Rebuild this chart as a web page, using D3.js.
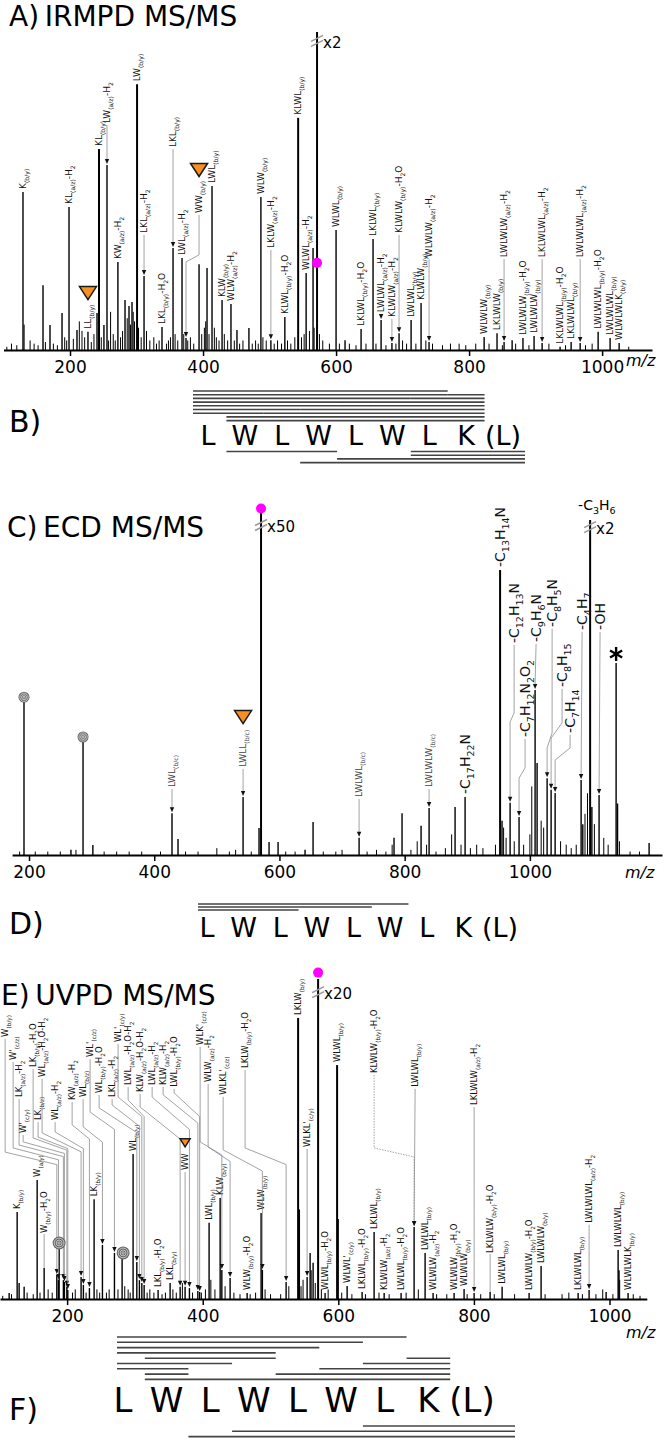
<!DOCTYPE html>
<html>
<head>
<meta charset="utf-8">
<script src="https://cdn.jsdelivr.net/npm/d3@7"></script>
<style>
  body { margin: 0; background: #fff; }
  svg { display: block; }
</style>
</head>
<body>
<svg id="fig" width="664" height="1439"></svg>
<script>
"use strict";

// ---------- data: A) IRMPD ----------
// [m/z, relative intensity (precursor = 100)]
var peaksA = [
  [129.3, 49.7], [159.4, 20.4], [169.9, 7.9], [188, 11.6], [198.5, 45], [210.5, 6.3],
  [227, 5.7], [240.6, 11.6], [243.6, 63.2], [251, 7.9], [255.6, 58.2], [272, 27.7],
  [282.7, 15.7], [288.7, 13.8], [293.2, 15.1], [300.8, 83.6], [311.3, 23.3], [338.3, 7.2],
  [354.9, 32.1], [368.4, 28.9], [374.4, 3.8], [394, 27], [406, 25.8], [413.5, 51.6],
  [428.6, 15.7], [442, 14.5], [451, 6.3], [469, 6.9], [487, 48.1], [502, 3.1],
  [523, 10.4], [543, 73], [555, 24.2], [565.4, 32.1], [571.4, 100], [600, 37.7],
  [613.5, 3.1], [637.6, 6.6], [655.6, 34.9], [667.7, 9.4], [684, 2.2], [694.7, 5.3],
  [712.8, 9.4], [727.8, 14.8], [739.8, 2.5], [822.6, 4.1], [842, 5.3], [852.6, 2.5],
  [864.7, 3.1], [881, 3.8], [897.7, 4.4], [909.8, 2.2], [936.8, 1], [953.4, 2.5],
  [967, 2.2], [994, 5.7], [1012, 3.8], [1025.6, 2.2]
];
var noiseA = [
  [105, 1], [112, 2], [120, 1.5], [131, 8], [140, 3], [146, 2], [152, 1.5], [163, 2.5],
  [175, 2], [181, 1.5], [192, 4], [195, 3], [205, 3.5], [214, 9], [218, 6], [222, 4],
  [232, 2.5], [236, 5], [247, 4], [258, 3], [261, 12], [265, 5], [268, 3], [276, 4],
  [279, 6], [286, 10], [291, 8], [295, 12], [297, 9], [303, 7], [307, 4], [315, 6],
  [320, 3], [326, 4], [330, 2], [334, 3], [345, 2], [348, 3], [351, 4], [358, 5],
  [362, 3], [371, 5], [377, 3], [381, 4], [386, 2], [398, 5], [402, 7], [404, 9],
  [409, 5], [417, 7], [420, 4], [424, 3], [432, 5], [437, 3], [447, 3], [455, 2],
  [460, 3], [474, 2], [479, 3], [483, 2], [490, 4], [495, 3], [507, 2], [512, 3],
  [518, 2], [527, 3], [532, 2], [538, 4], [548, 4], [552, 5], [560, 6], [567, 7],
  [575, 5], [580, 3], [590, 2], [605, 2], [620, 2], [630, 1.5], [645, 2], [660, 2],
  [675, 1.5], [690, 2], [700, 3], [706, 2], [720, 2], [735, 3], [745, 2], [760, 1.5],
  [772, 2], [785, 2], [795, 1.5], [810, 2], [830, 2], [850, 1.5], [870, 2], [890, 1.5],
  [920, 2], [945, 1.5], [975, 1.5], [985, 2], [1040, 1]
];
// labels sitting on their peak: [text, m/z, intensity, label foot (optional)]
var directA = [
  ["K_{(b/y)}", 129.3, 49.7], ["KL_{(a/z)}-H_{2}", 198.5, 45], ["LL_{(b/y)}", 227, 5.7],
  ["KL_{(b/y)}", 243.6, 63.2], ["KW_{(a/z)}-H_{2}", 272, 27.7], ["LW_{(b/y)}", 300.8, 83.6],
  ["LKL_{(b/y)}-H_{2}O", 338.3, 7.2], ["LWL_{(a/z)}-H_{2}", 368.4, 28.9],
  ["LWL_{(b/y)}", 413.5, 51.6], ["KLW_{(b/y)}", 428.6, 15.7], ["WLW_{(a/z)}-H_{2}", 442, 14.5],
  ["WLW_{(b/y)}", 487, 48.1], ["KLWL_{(b/y)}-H_{2}O", 523, 10.4], ["KLWL_{(b/y)}", 543, 73],
  ["WLWL_{(a/z)}-H_{2}", 555, 24.2], ["WLWL_{(b/y)}", 600, 37.7],
  ["LKLWL_{(b/y)}-H_{2}O", 637.6, 6.6], ["LKLWL_{(b/y)}", 655.6, 34.9],
  ["LWLWL_{(b/y)}", 712.8, 9.4], ["KLWLW_{(b/y)}", 727.8, 14.8], ["WLWLW_{(b/y)}", 822.6, 4.1],
  ["LKLWLW_{(b/y)}", 842, 5.3], ["LWLWLW_{(b/y)}-H_{2}O", 881, 3.8], ["LWLWLW_{(b/y)}", 897.7, 4.4],
  ["LKLWLWL_{(b/y)}-H_{2}O", 936.8, 1], ["LKLWLWL_{(b/y)}", 953.4, 2.5],
  ["LWLWLWL_{(b/y)}-H_{2}O", 994, 5.7], ["LWLWLWL_{(b/y)}", 1012, 3.8], ["WLWLWLK_{(b/y)}", 1025.6, 2.2]
];
// labels with leader: [text, label m/z, label foot, target m/z, target intensity, elbow1, elbow2, dotted]
var leadersA = [
  ["LW_{(a/z)}-H_{2}", 255.6, 71.4, 255.6, 58.2], ["LKL_{(a/z)}-H_{2}", 311.3, 36.8, 311.3, 23.3],
  ["LKL_{(b/y)}", 354.9, 63.8, 354.9, 32.1], ["WW_{(b/y)}", 394, 43.1, 374.4, 3.8, 29.9, 27.7],
  ["LKLW_{(a/z)}-H_{2}", 502, 32.1, 502, 3.1], ["LWLWL_{(a/z)}-H_{2}", 667.7, 11.9, 667.7, 9.4],
  ["KLWLW_{(a/z)}-H_{2}", 684, 10.4, 684, 2.2], ["KLWLW_{(b/y)}-H_{2}O", 694.7, 36.8, 694.7, 5.3],
  ["WLWLW_{(a/z)}-H_{2}", 739.8, 29.2, 739.8, 2.5], ["LWLWLW_{(a/z)}-H_{2}", 852.6, 29.2, 852.6, 2.5],
  ["LKLWLWL_{(a/z)}-H_{2}", 909.8, 29.2, 909.8, 2.2], ["LWLWLWL_{(a/z)}-H_{2}", 967, 29.2, 967, 2.2]
];
var triA = [[227, 17.9], [394, 56.6]];
var precA = [571.4, 27.4];

// ---------- data: C) ECD ----------
var peaksC = [
  [192, 44.6], [286.3, 33.5], [267, 1.5], [302, 2.9], [428.4, 12.2], [438, 4.7], [541.9, 16.9],
  [567.4, 7.9], [570.6, 100], [583.4, 3.8], [597.8, 3.8], [640.9, 1.5], [653.7, 9.6], [727.2, 5],
  [783, 5], [795.8, 12.2], [826.2, 8.5], [839, 13.7], [880.5, 14], [896.5, 16.9], [952.4, 83.1],
  [955.5, 10], [968.4, 15.2], [982.7, 11.1], [1008.3, 48.1], [1011.5, 26.8], [1027.5, 22.4],
  [1033.9, 19], [1040.3, 18.1], [1081.8, 21.9], [1084.5, 9], [1096.2, 97.7], [1099, 14],
  [1110.5, 17.5], [1137.7, 56], [1140, 15], [1190.4, 3.5]
];
var noiseC = [
  [185, 1], [210, 1], [230, 1], [250, 1], [275, 1.5], [320, 1], [340, 1], [360, 1], [380, 1],
  [410, 1], [450, 1], [470, 1], [500, 2], [520, 1], [530, 1.5], [555, 1], [610, 1], [625, 1],
  [670, 1], [690, 1], [700, 1.5], [740, 1], [755, 1.5], [770, 1], [780, 3], [810, 1.5], [820, 4],
  [835, 3], [850, 1], [865, 2], [875, 6], [890, 3], [905, 2], [915, 3], [925, 2], [945, 3],
  [958, 8], [962, 5], [975, 4], [990, 3], [1000, 6], [1003, 20], [1018, 10], [1022, 8],
  [1049, 4], [1058, 3], [1066, 2], [1074, 3], [1088, 12], [1092, 18], [1103, 9], [1118, 5],
  [1125, 3], [1143, 4], [1160, 1], [1175, 1]
];
var directC = [["-C_{17}H_{22}N", 896.5, 16.9], ["-C_{13}H_{14}N", 952.4, 83.1]];
var leadersC = [
  ["LWL_{(b/c)}", 428.4, 19.8, 428.4, 12.2], ["LWLL_{(b/c)}", 541.9, 25.7, 541.9, 16.9],
  ["LWLWL_{(b/c)}", 727.2, 16.9, 727.2, 5], ["LWLWLW_{(b/c)}", 839, 19.8, 839, 13.7]
];
var formulaC = [
  ["-C_{12}H_{13}N", 974.8, 61.8, 968.4, 15.2, 41.4, 38.8],
  ["-C_{7}H_{12}N_{2}O_{2}", 992.3, 34.4, 982.7, 11.1, 25.4, 22.4],
  ["-C_{9}H_{6}N", 1009.9, 62.1, 1008.3, 48.1],
  ["-C_{8}H_{5}N", 1035.5, 66.5, 1027.5, 22.4, 35.6, 31.2],
  ["-C_{8}H_{15}", 1051.4, 49, 1033.9, 19, 38.5, 34.1],
  ["-C_{7}H_{14}", 1064.2, 35.6, 1040.3, 18.1, 31.2, 27.7],
  ["-C_{4}H_{7}", 1083.4, 65.6, 1081.8, 21.9],
  ["-OH", 1112.1, 65.6, 1110.5, 17.5]
];
var triC = [[541.9, 40.2]];
var spiralC = [[192, 46], [286.3, 34.4]];
var precC = [570.6, 101];
var starC = [1137.7, 58.6];

// ---------- data: E) UVPD ----------
var peaksE = [
  [114.5, 1.9], [126.3, 27.2], [129.2, 5], [136.6, 3.8], [155.8, 37.2], [166.1, 9.7],
  [184.8, 7.5], [187.2, 5.9], [188.2, 15.9], [194.5, 5.9], [196, 5.3], [199.6, 3.8], [201, 2.8],
  [220.6, 6.9], [224, 4.4], [232.9, 3.4], [239.8, 31.2], [252.1, 16.9], [269.8, 14.4],
  [281.1, 12.8], [297.3, 45.3], [302.8, 11.6], [306.6, 5.9], [310.2, 5], [313.6, 4.4],
  [334.2, 2.8], [351.9, 5], [366.7, 3.8], [374, 3.8], [380.4, 3.4], [392.8, 2.5], [395.5, 2.2],
  [409.4, 23.8], [425.7, 31.6], [428.2, 9.1], [440.4, 6.6], [465.5, 1.9], [486.1, 26.9],
  [488, 9.1], [523, 5.3], [540.7, 87.8], [542.5, 28], [554, 6.9], [558.4, 14.4], [562.8, 11.3],
  [570.2, 100], [580.5, 1.9], [598.2, 73.1], [599.8, 25], [613, 4.1], [635.1, 2.2], [652.8, 20.9],
  [667.6, 1.9], [692.6, 1.9], [711.8, 22.5], [728, 14.4], [739.8, 1.9], [770.8, 1.9],
  [785.5, 3.1], [800.3, 1.9], [823.9, 2.2], [841.6, 3.8], [881.4, 1.9], [899.1, 10.3],
  [953.7, 1.9], [969.9, 2.8], [995, 2.2], [1012.7, 15.3], [1014, 9], [1027.4, 1.9]
];
var noiseE = [
  [105, 1], [118, 1.5], [141, 2], [150, 1.5], [160, 2], [172, 3], [178, 2], [208, 2], [212, 3],
  [228, 2], [244, 3], [248, 2], [258, 2], [262, 3], [275, 3], [285, 4], [290, 3], [293, 2],
  [318, 2], [322, 3], [328, 2], [340, 1.5], [345, 2], [356, 3], [361, 2], [370, 5], [385, 2],
  [398, 2], [404, 3], [412, 6], [418, 3], [433, 4], [446, 2], [455, 1.5], [470, 1.5], [478, 2],
  [492, 3], [500, 1.5], [515, 1.5], [527, 4], [545, 4], [548, 6], [560, 9], [566, 5], [575, 3],
  [585, 3], [605, 2], [620, 1.5], [640, 1.5], [660, 2], [675, 1.5], [700, 2], [718, 3],
  [745, 1.5], [760, 1.5], [790, 1.5], [810, 1.5], [830, 1.5], [860, 1.5], [905, 1.5], [930, 1.5],
  [940, 2], [960, 1.5], [980, 1.5], [990, 3], [1005, 1.5], [1015, 6], [1035, 1.5], [1045, 1]
];
var directE = [
  ["K_{(b/y)}", 126.3, 27.2], ["W_{(a/y)}", 155.8, 37.2], ["W_{(b/y)}-H_{2}O", 166.1, 9.7, 20.6],
  ["LK_{(b/y)}", 239.8, 31.2], ["WL_{(b/y)}", 297.3, 45.3], ["LKL_{(b/y)}-H_{2}O", 334.2, 2.8],
  ["LKL_{(b/y)}", 351.9, 5], ["LWL_{(b/y)}", 409.4, 23.8], ["KLW_{(b/y)}", 425.7, 31.6],
  ["WLW_{(b/y)}-H_{2}O", 465.5, 1.9], ["WLW_{(b/y)}", 486.1, 26.9], ["LKLW_{(b/y)}", 540.7, 87.8],
  ["WLWL_{(b/y)}-H_{2}O", 580.5, 1.9], ["WLWL_{(b/y)}", 598.2, 73.1], ["WLWL'_{(c/y)}", 613, 4.1],
  ["LKLWL_{(b/y)}-H_{2}O", 635.1, 2.2], ["LKLWL_{(b/y)}", 652.8, 20.9],
  ["KLWLW_{(a/z)}-H_{2}", 667.6, 1.9], ["LWLWL_{(b/y)}-H_{2}O", 692.6, 1.9],
  ["LWLWL_{(b/y)}", 728, 14.4], ["WLWLW_{(a/z)}-H_{2}", 739.8, 1.9],
  ["WLWLW_{(b/y)}-H_{2}O", 770.8, 1.9], ["WLWLW_{(b/y)}", 785.5, 3.1],
  ["LKLWLW_{(b/y)}-H_{2}O", 823.9, 2.2, 14.4], ["LWLWL_{(b/y)}", 841.6, 3.8],
  ["LWLWLW_{(b/y)}-H_{2}O", 881.4, 1.9], ["LWLWLW_{(b/y)}", 899.1, 10.3],
  ["LKLWLWL_{(b/y)}", 953.7, 1.9], ["LWLWLWL_{(b/y)}", 1012.7, 15.3], ["WLWLWLK_{(b/y)}", 1027.4, 1.9]
];
var leadersE = [
  ["W_{(b/y)}", 108.6, 81.9, 184.8, 7.5, 45.9, 42],
  ["W'_{(c/z)}", 120.4, 74.7, 187.2, 5.9, 47.2, 43.5],
  ["LK_{(a/z)}-H_{2}", 129.2, 63.1, 194.5, 5.9, 48.1, 44.5],
  ["W'_{(c/y)}", 135.1, 51.9, 196, 5.3, 49.1, 45.5],
  ["LK_{(b/y)}-H_{2}O", 149.9, 72.5, 199.6, 3.8, 50.3, 46.5],
  ["LK_{(b/z)}", 157.2, 55.9, 201, 2.8, 50.6, 47],
  ["WL_{(a/z)}-H_{2}O-H_{2}", 163.1, 69.4, 220.6, 6.9, 51.9, 46],
  ["WL_{(a/z)}-H_{2}", 182.3, 55.9, 224, 4.4, 52.2, 47],
  ["KW_{(a/z)}-H_{2}", 207.4, 62.2, 232.9, 3.4, 54.4, 50],
  ["WL_{(b/z)}", 223.6, 63.1, 252.1, 16.9, 53.8, 49],
  ["WL'_{(c/z)}", 233.9, 75.6, 269.8, 14.4, 58.4, 53],
  ["WL_{(b/y)}-H_{2}O", 247.2, 64.4, 302.8, 11.6, 59.7, 52],
  ["LKL_{(a/z)}-H_{2}", 266.4, 63.1, 306.6, 5.9, 60.6, 54],
  ["WL'_{(c/y)}", 275.2, 80.3, 310.2, 5, 63.1, 57],
  ["LWL_{(a/z)}-H_{2}O-H_{2}", 290, 66.9, 313.6, 4.4, 62.2, 57],
  ["KLW_{(a/z)}-H_{2}O-H_{2}", 307.7, 64.7, 366.7, 3.8, 60, 50],
  ["LWL_{(a/z)}-H_{2}", 325.4, 66.9, 380.4, 3.4, 63.1, 53],
  ["KLW_{(a/z)}-H_{2}", 341.6, 66.9, 392.8, 2.5, 63.8, 55],
  ["LWL_{(b/y)}-H_{2}O", 357.8, 66.3, 395.5, 2.2, 64.4, 57],
  ["WLK'_{(c/z)}", 396.2, 79.4, 428.2, 9.1, 49.1, 45],
  ["WLW_{(a/z)}-H_{2}", 408, 67.8, 440.4, 6.6, 47.5, 43],
  ["WLKL'_{(c/z)}", 430.1, 63.8, 488, 9.1, 46.6, 40],
  ["LKLW_{(b/y)}-H_{2}O", 462.5, 72.2, 523, 5.3, 47.2, 42],
  ["WW", 374, 40.3, 374, 3.8],
  ["WLKL'_{(c/y)}", 554, 47.5, 554, 6.9],
  ["KLWLW_{(b/y)}-H_{2}O", 652.8, 70.6, 711.8, 22.5, 47.2, 44.4, true],
  ["LWLWL_{(b/y)}", 713.3, 66.3, 711.8, 22.5],
  ["LKLWLW_{(a/z)}-H_{2}", 800.3, 60.6, 800.3, 1.9],
  ["LWLWLWL_{(a/z)}-H_{2}", 969.9, 23.8, 969.9, 2.8]
];
var triE = [[374, 48.8]];
var spiralE = [[188.2, 17.5], [282.6, 14.4]];
var precE = [570.2, 102];

var ticks = [200, 400, 600, 800, 1000];

// ---------- data: sequence coverage ----------
var residues = ["L", "W", "L", "W", "L", "W", "L", "K", "(L)"];
// each row: list of [from boundary, to boundary]
var aboveB = [
  [[0, 7]], [[0, 7], [7, 8]], [[0, 6], [6, 8]], [[0, 5], [5, 8]], [[0, 4], [4, 8]],
  [[0, 3], [3, 8]], [[0, 2], [2, 8]], [[1, 8]], [[1, 8]]
];
var belowB = [[[1, 4], [6, 9]], [[6, 9]], [[4, 9]], [[3, 9]]];
var aboveD = [[[0, 6]], [[0, 5]], [[0, 3]]];
var aboveF = [
  [[0, 7]], [[0, 6]], [[0, 5]], [[0, 4]], [[1, 4], [7, 8]], [[0, 3], [6, 8]],
  [[0, 2], [5, 8]], [[1, 2], [4, 8]], [[1, 8]]
];
var belowF = [[[6, 9]], [[3, 9]], [[2, 9]]];

// ---------- drawing ----------
var FONT = "'DejaVu Sans', Verdana, sans-serif";
var svg = d3.select("#fig");
svg.append("rect").attr("width", 664).attr("height", 1439).attr("fill", "#fff");

// text with _{...} subscripts
function rich(t, str, fs) {
  var parts = str.split(/(_\{[^}]*\})/).filter(function (s) { return s.length; });
  var sh = fs * 0.3, down = false;
  parts.forEach(function (p) {
    if (p.indexOf("_{") === 0) {
      t.append("tspan").attr("font-size", fs * 0.68).attr("dy", down ? 0 : sh).text(p.slice(2, -1));
      down = true;
    } else {
      t.append("tspan").attr("dy", down ? -sh : 0).text(p);
      down = false;
    }
  });
}

function vlabel(g, str, px, foot, fs, color) {
  var t = g.append("text")
    .attr("transform", "translate(" + (px + fs * 0.36) + "," + foot + ") rotate(-90)")
    .attr("font-family", FONT)
    .attr("font-size", fs)
    .attr("fill", color);
  rich(t, str, fs);
}

function drawBreak(g, px, py, txt) {
  [-2.5, 2.5].forEach(function (o) {
    g.append("line")
      .attr("x1", px - 6).attr("y1", py + 3 + o)
      .attr("x2", px + 6).attr("y2", py - 3 + o)
      .attr("stroke", "#9a9a9a").attr("stroke-width", 1.6);
  });
  g.append("text").attr("x", px + 6).attr("y", py + 7)
    .attr("font-family", FONT).attr("font-size", 15).text(txt);
}

function drawPanel(p) {
  var x = d3.scaleLinear().domain(p.mz).range(p.xr);
  var y = d3.scaleLinear().domain([0, 100]).range(p.yr);
  var base = p.yr[0];
  var g = svg.append("g");

  g.append("g").selectAll("line").data(p.noise).join("line")
    .attr("x1", function (d) { return x(d[0]); })
    .attr("x2", function (d) { return x(d[0]); })
    .attr("y1", base).attr("y2", function (d) { return y(d[1]); })
    .attr("stroke", "#000").attr("stroke-width", 1);

  g.append("g").selectAll("line").data(p.peaks).join("line")
    .attr("x1", function (d) { return x(d[0]); })
    .attr("x2", function (d) { return x(d[0]); })
    .attr("y1", base).attr("y2", function (d) { return y(d[1]); })
    .attr("stroke", "#000")
    .attr("stroke-width", function (d) { return d[1] > 60 ? 2 : 1.4; });

  // axis
  var ax = d3.axisBottom(x).tickValues(ticks).tickSizeInner(6).tickSizeOuter(0)
    .tickPadding(5).tickFormat(d3.format("d"));
  var a = g.append("g").attr("transform", "translate(0," + base + ")").call(ax);
  a.select(".domain").attr("stroke-width", 2.2);
  a.selectAll(".tick line").attr("stroke-width", 1.5);
  a.selectAll(".tick text").attr("font-size", 17).attr("font-family", FONT).attr("fill", "#000");
  g.append("text").attr("x", p.mzLabel[0]).attr("y", p.mzLabel[1])
    .attr("font-family", FONT).attr("font-size", 16).attr("font-style", "italic").text("m/z");

  // direct labels
  p.direct.forEach(function (d) {
    var px = x(d[1]), top = y(d[2]);
    var foot = d[3] != null ? y(d[3]) : top - 3;
    if (d[3] != null && top - foot > 5) {
      g.append("line").attr("x1", px).attr("x2", px).attr("y1", foot + 1).attr("y2", top)
        .attr("stroke", "#8c8c8c").attr("stroke-width", 0.8);
    }
    vlabel(g, d[0], px, foot, p.fsDirect || p.fs, "#111");
  });

  // leader labels
  function leaders(list, fs, color) {
    list.forEach(function (d) {
      var lx = x(d[1]), foot = y(d[2]), tx = x(d[3]), ty = y(d[4]);
      var pts = [[lx, foot + 2]];
      if (d[5] != null) { pts.push([lx, y(d[5])]); pts.push([tx, y(d[6])]); }
      pts.push([tx, ty - 5]);
      g.append("path").attr("d", d3.line()(pts)).attr("fill", "none")
        .attr("stroke", "#8c8c8c").attr("stroke-width", 0.8)
        .attr("stroke-dasharray", d[7] ? "1.5,1.2" : null);
      g.append("path")
        .attr("d", "M" + (tx - 2.2) + "," + (ty - 6) + "L" + (tx + 2.2) + "," + (ty - 6) + "L" + tx + "," + (ty - 1) + "Z")
        .attr("fill", "#111");
      vlabel(g, d[0], lx, foot, fs, color);
    });
  }
  leaders(p.leaders, p.fs, p.leaderColor || "#111");
  if (p.formula) leaders(p.formula, 14, "#111");

  // orange triangles
  p.tri.forEach(function (d) {
    var cx = x(d[0]), cy = y(d[1]), w = p.triSize[0], h = p.triSize[1];
    g.append("path")
      .attr("d", "M" + (cx - w / 2) + "," + (cy - h / 2) + "L" + (cx + w / 2) + "," + (cy - h / 2) + "L" + cx + "," + (cy + h / 2) + "Z")
      .attr("fill", "#f7901e").attr("stroke", "#1a1a1a").attr("stroke-width", 1.5);
  });

  // spiral markers
  (p.spiral || []).forEach(function (d) {
    var cx = x(d[0]), cy = y(d[1]);
    g.append("circle").attr("cx", cx).attr("cy", cy).attr("r", p.spiralR).attr("fill", "#666");
    [0.75, 0.45, 0.18].forEach(function (f) {
      g.append("circle").attr("cx", cx).attr("cy", cy).attr("r", p.spiralR * f)
        .attr("fill", "none").attr("stroke", "#ddd").attr("stroke-width", 0.8);
    });
  });

  // precursor dot
  g.append("circle").attr("cx", x(p.prec[0])).attr("cy", y(p.prec[1])).attr("r", 5).attr("fill", "#ff00ff");

  // break marks and scale factors
  p.breaks.forEach(function (b) { drawBreak(g, x(b[1]), y(b[2]), b[0]); });

  return { x: x, y: y, g: g };
}

// titles
[["A)\u2009IRMPD MS/MS", 9, 26], ["C)\u2009ECD MS/MS", 7, 537], ["E)\u2009UVPD MS/MS", 1, 1005]]
  .forEach(function (t) {
    svg.append("text").attr("x", t[1]).attr("y", t[2]).attr("font-family", FONT)
      .attr("font-size", 28).text(t[0]);
  });

var pA = drawPanel({
  mz: [100, 1075], xr: [3.5, 652], yr: [350, 32],
  peaks: peaksA, noise: noiseA, direct: directA, leaders: leadersA, fs: 9,
  tri: triA, triSize: [17, 13], prec: precA, mzLabel: [626, 366],
  breaks: [["x2", 571.4, 97.2]]
});

var pC = drawPanel({
  mz: [173, 1211], xr: [12.1, 662], yr: [855, 512],
  peaks: peaksC, noise: noiseC, direct: directC, fsDirect: 14, leaders: leadersC, fs: 9,
  leaderColor: "#444", formula: formulaC,
  tri: triC, triSize: [17, 13], spiral: spiralC, spiralR: 5.5, prec: precC, mzLabel: [625, 878],
  breaks: [["x50", 570.6, 96.2], ["x2", 1096.2, 95.6]]
});
// -C3H6 written across the top of its peak, and the asterisk
(function () {
  var t = pC.g.append("text")
    .attr("x", pC.x(1096.2) - 12).attr("y", pC.y(100.5))
    .attr("font-family", FONT).attr("font-size", 14);
  rich(t, "-C_{3}H_{6}", 14);
  var sx = pC.x(starC[0]), sy = pC.y(starC[1]);
  [90, 30, -30].forEach(function (ang) {
    var r = ang * Math.PI / 180, dx = Math.cos(r) * 7, dy = Math.sin(r) * 7;
    pC.g.append("line").attr("x1", sx - dx).attr("y1", sy - dy).attr("x2", sx + dx).attr("y2", sy + dy)
      .attr("stroke", "#000").attr("stroke-width", 2.4);
  });
})();

var pE = drawPanel({
  mz: [101, 1055], xr: [0, 646.8], yr: [1299, 979],
  peaks: peaksE, noise: noiseE, direct: directE, leaders: leadersE, fs: 8.5,
  tri: triE, triSize: [10, 8], spiral: spiralE, spiralR: 6.5, prec: precE, mzLabel: [626, 1338],
  breaks: [["x20", 570.2, 95.9]]
});

// sequences
function drawSeq(s) {
  var c = d3.scaleLinear().domain([0, 8]).range(s.span);
  var bx = function (k) { return k === 0 ? c(0) - s.lead : (k === 9 ? c(8) + s.tail : c(k - 0.5)); };
  var g = svg.append("g");
  g.append("text").attr("x", 9).attr("y", s.tagY).attr("font-family", FONT)
    .attr("font-size", 30).text(s.tag);
  g.selectAll("text.res").data(residues).join("text").attr("class", "res")
    .attr("x", function (d, i) { return c(i); }).attr("y", s.base)
    .attr("text-anchor", "middle").attr("font-family", FONT).attr("font-size", s.fs)
    .text(function (d) { return d; });
  function rows(list, y0, gap) {
    list.forEach(function (row, r) {
      row.forEach(function (seg) {
        g.append("line").attr("x1", bx(seg[0])).attr("x2", bx(seg[1]))
          .attr("y1", y0 + r * gap).attr("y2", y0 + r * gap)
          .attr("stroke", "#444").attr("stroke-width", 1.6);
      });
    });
  }
  rows(s.above, s.aboveY, s.gap);
  if (s.below) rows(s.below, s.belowY, s.gap);
}

drawSeq({ tag: "B)", tagY: 432, span: [208, 503], lead: 15, tail: 22, base: 445, fs: 27,
  above: aboveB, aboveY: 391, below: belowB, belowY: 451.5, gap: 3.7 });
drawSeq({ tag: "D)", tagY: 934, span: [207, 500], lead: 9, tail: 22, base: 937, fs: 27,
  above: aboveD, aboveY: 904, gap: 3 });
drawSeq({ tag: "F)", tagY: 1420, span: [123, 472], lead: 6, tail: 43, base: 1412, fs: 34,
  above: aboveF, aboveY: 1337, below: belowF, belowY: 1426, gap: 5.3 });
</script>
</body>
</html>
